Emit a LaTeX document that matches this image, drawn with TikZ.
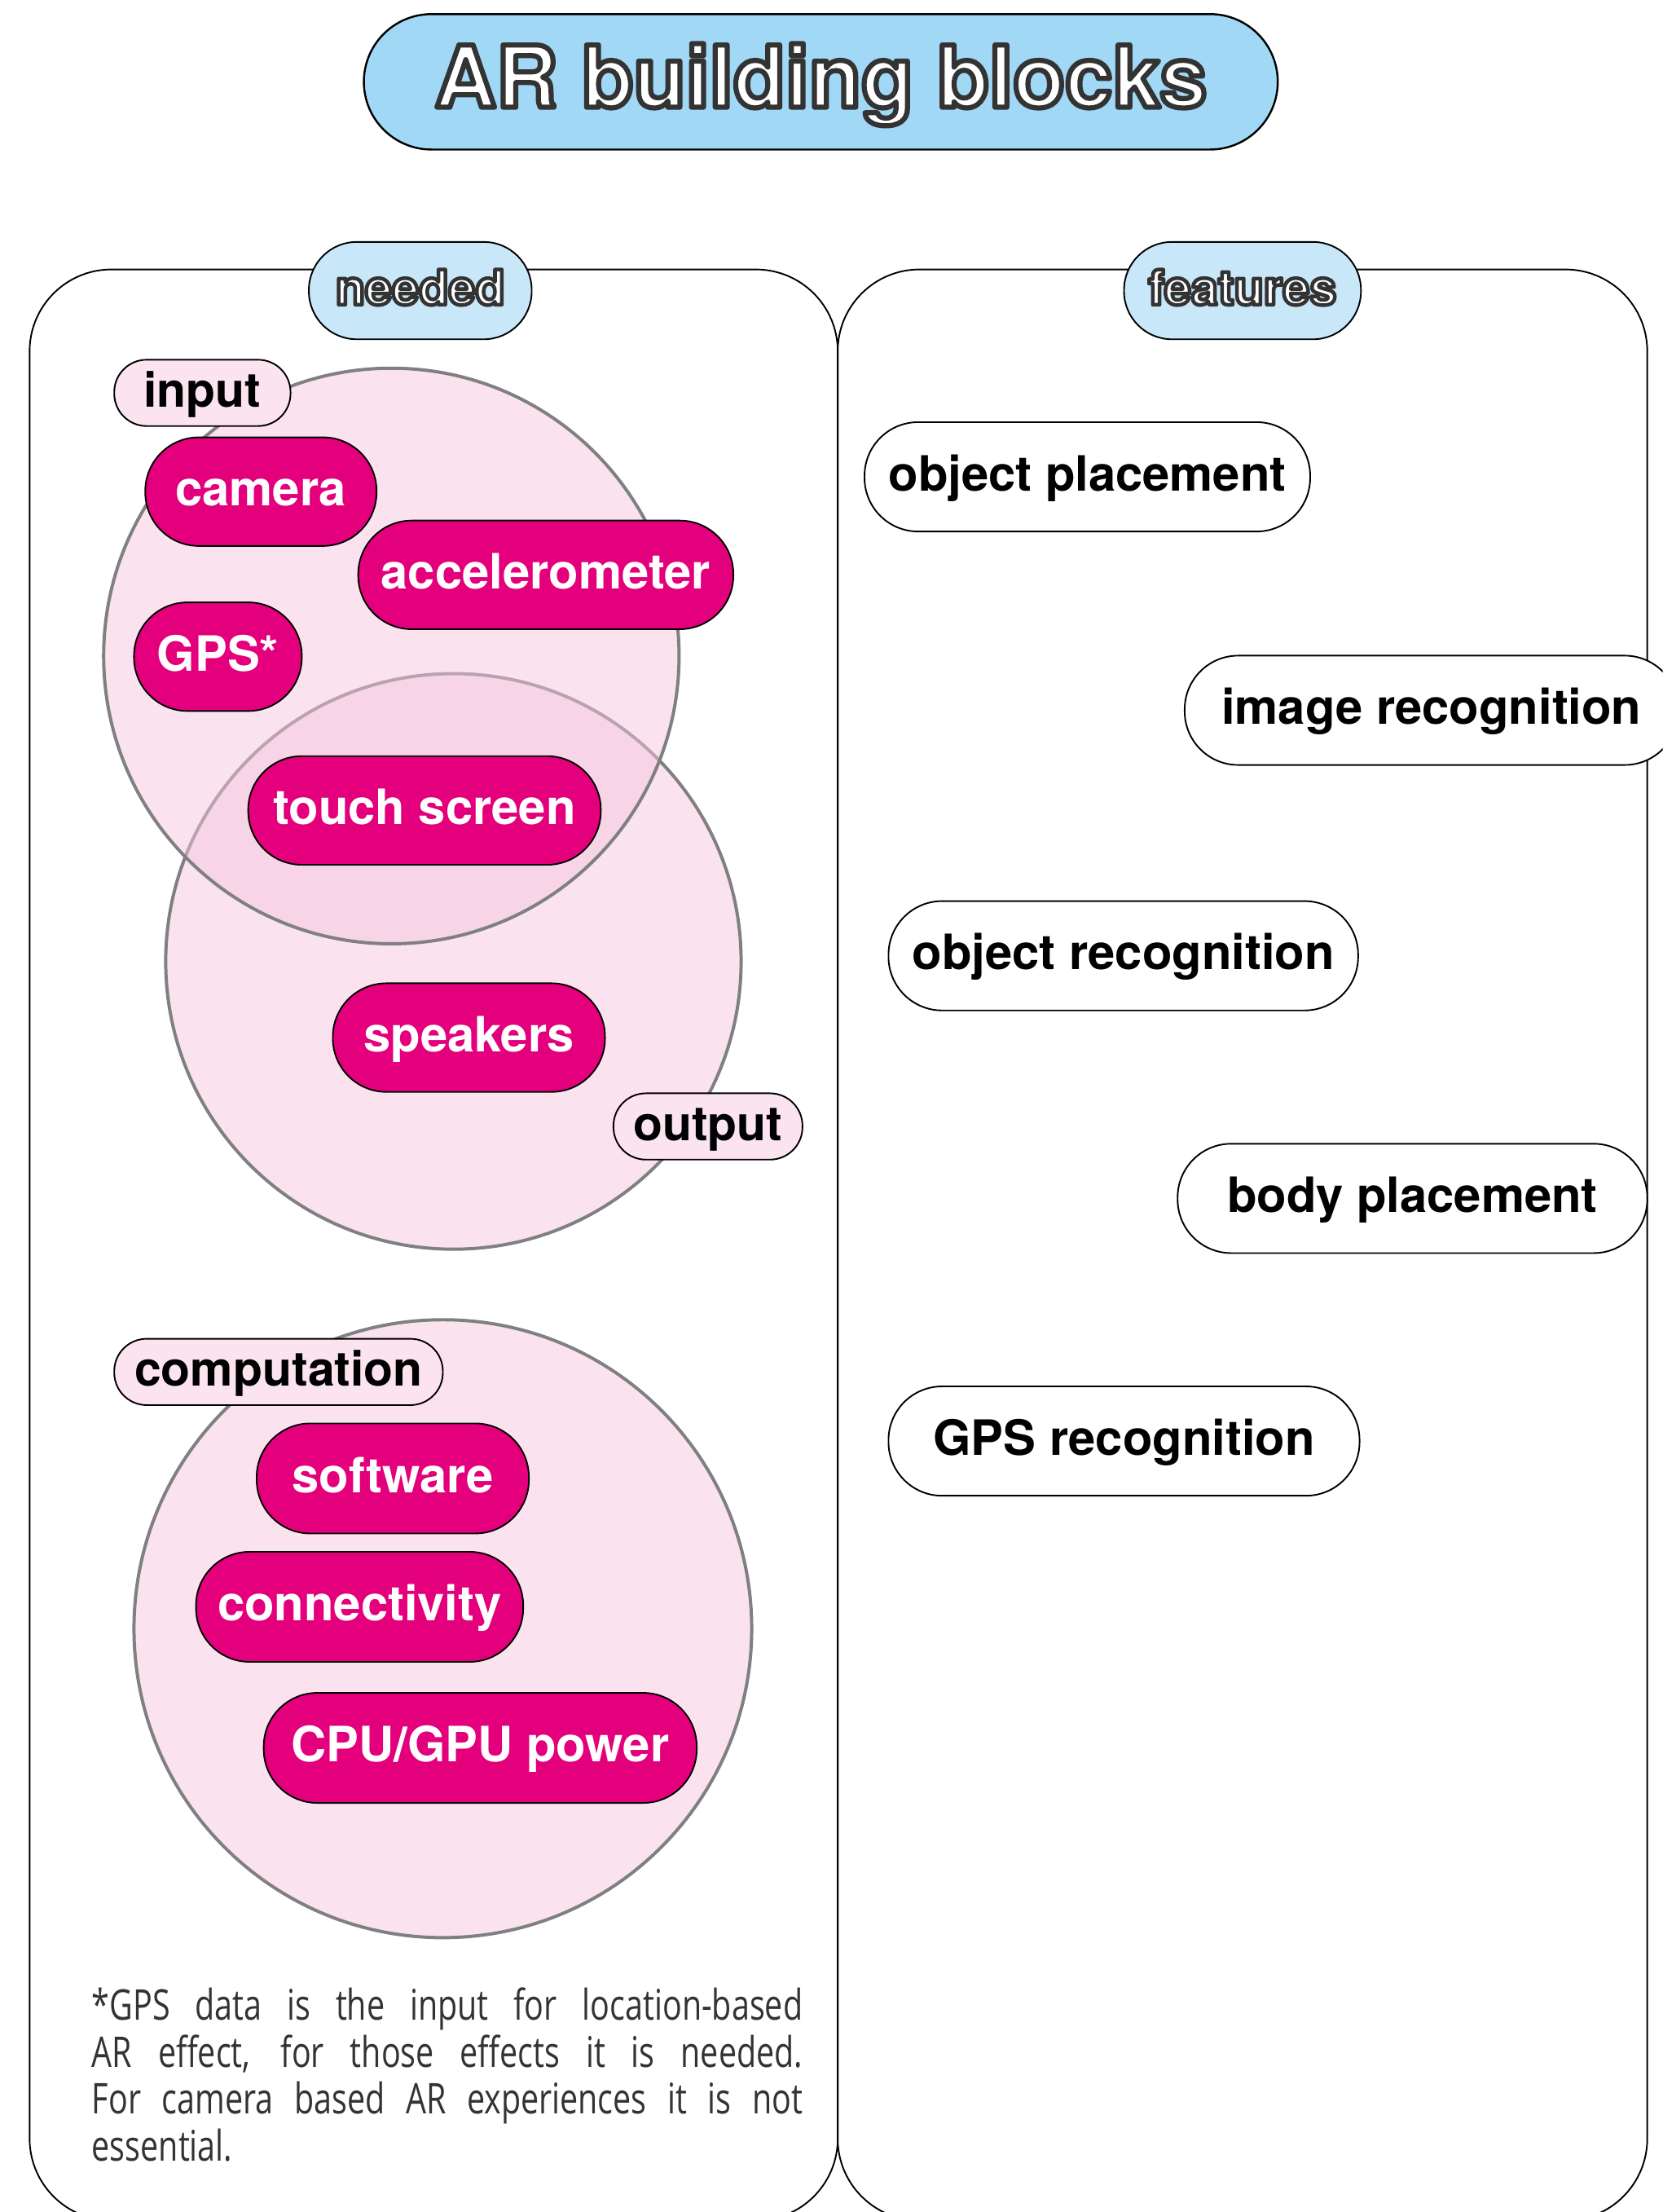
\documentclass[tikz,border=0pt]{standalone}
\usepackage{fontspec}
\setmainfont{TeX Gyre Heros}
\newfontfamily\notefont[FakeStretch=0.76]{Open Sans}

\definecolor{titleblue}{RGB}{161,216,245}
\definecolor{labelblue}{RGB}{200,231,248}
\definecolor{tagpink}{RGB}{251,228,239}
\definecolor{setpink}{RGB}{250,227,239}
\definecolor{overpink}{RGB}{245,199,223}
\definecolor{partmagenta}{RGB}{228,0,124}
\definecolor{setgray}{RGB}{128,128,128}

% white lettering with a dark outline (fill + stroke text rendering)
\newcommand\outlinetext[2]{{\color{white}\special{pdf:literal direct 0.2 0.2 0.2 RG #1 w 1 j 2 Tr}#2\special{pdf:literal direct 0 Tr 0 j}}}

\tikzset{
  pilltext/.style={inner sep=0pt, text height=26pt, text depth=6pt,
    font=\bfseries\fontsize{34.5}{40}\selectfont},
  partpill/.style={pilltext, rectangle, draw=black, line width=1.1pt,
    fill=partmagenta, text=white, minimum height=77pt, rounded corners=38pt},
  featpill/.style={pilltext, rectangle, draw=black, line width=1.1pt,
    fill=white, text=black, minimum height=77.5pt, rounded corners=38pt},
  tagpill/.style={pilltext, rectangle, draw=black, line width=1.1pt,
    fill=tagpink, text=black, minimum height=47pt, rounded corners=23pt,
    font=\bfseries\fontsize{34}{40}\selectfont},
  headpill/.style={pilltext, rectangle, draw=black, line width=1.1pt,
    fill=labelblue, minimum height=69pt, rounded corners=34pt,
    font=\bfseries\fontsize{34.3}{40}\selectfont},
  panel/.style={rectangle, draw=black, line width=1.1pt, rounded corners=58pt,
    inner sep=0pt},
  setdisk/.style={circle, inner sep=0pt, draw=setgray, line width=2.3pt},
}

\begin{document}
\begin{tikzpicture}[x=1pt, y=-1pt]
\useasboundingbox (0,0) rectangle (1179,1568);
\clip (0,0) rectangle (1179,1568);

% the two columns
\node[panel, minimum width=573pt, minimum height=1383pt] (neededpanel) at (307.5,882.5) {};
\node[panel, minimum width=574pt, minimum height=1383pt] (featurepanel) at (881,882.5) {};

% sets of needed parts
\node[setdisk, fill=setpink, minimum size=408pt] (outputset) at (321.5,681.5) {};
\node[setdisk, fill=setpink, minimum size=438pt] (computeset) at (314,1154.5) {};
\node[setdisk, fill=overpink, fill opacity=0.5, minimum size=408pt] (inputset) at (277.5,465) {};

% set tags
\node[tagpill, minimum width=125pt] (inputtag) at (143.5,278.5) {input};
\node[tagpill, minimum width=134pt] (outputtag) at (502,798.5) {output};
\node[tagpill, minimum width=233pt] (computetag) at (197.5,972.5) {computation};

% parts
\node[partpill, minimum width=164pt] (camera) at (185,348.5) {camera};
\node[partpill, minimum width=266pt] (accel) at (387,407.5) {accelerometer};
\node[partpill, minimum width=119pt] (gps) at (154.5,465.5) {GPS*};
\node[partpill, minimum width=250pt] (touch) at (301,574.5) {touch screen};
\node[partpill, minimum width=193pt] (speakers) at (332.5,735.5) {speakers};
\node[partpill, minimum width=193pt, minimum height=78pt] (software) at (278.5,1048) {software};
\node[partpill, minimum width=232pt, minimum height=78pt] (connect) at (255,1139) {connectivity};
\node[partpill, minimum width=307pt, minimum height=78pt] (cpu) at (340.5,1239) {CPU/GPU power};

% features
\node[featpill, minimum width=316pt] (objplace) at (771,338) {object placement};
\node[featpill, minimum width=350pt] (imgrec) at (1015,503.5) {image recognition};
\node[featpill, minimum width=333pt] (objrec) at (796.5,677.5) {object recognition};
\node[featpill, minimum width=333pt] (bodyplace) at (1001.5,849.5) {body placement};
\node[featpill, minimum width=334pt] (gpsrec) at (797,1021.5) {GPS recognition};

% footnote (anchored at the baseline of its last line)
\node[anchor=base west, inner sep=0pt, align=left, text=black!80,
  font=\notefont\fontsize{30}{33.4}\selectfont] (note) at (65,1532)
  {\makebox[504pt][s]{*GPS data is the input for location-based}\\
   \makebox[504pt][s]{AR effect, for those effects it is needed.}\\
   \makebox[504pt][s]{For camera based AR experiences it is not}\\
   essential.};

% column headers and title
\node[headpill, minimum width=158pt] (neededhead) at (298,206) {\outlinetext{2.6}{needed}};
\node[headpill, minimum width=168pt] (featurehead) at (881,206) {\outlinetext{2.6}{features}};
\node[pilltext, rectangle, draw=black, line width=1.4pt, fill=titleblue,
  minimum width=648pt, minimum height=96pt, rounded corners=48pt,
  text height=44pt, text depth=8pt,
  font=\bfseries\fontsize{60.5}{70}\selectfont] (title) at (582,58)
  {\outlinetext{3.6}{AR building blocks}\hspace{34pt}};
\end{tikzpicture}
\end{document}
